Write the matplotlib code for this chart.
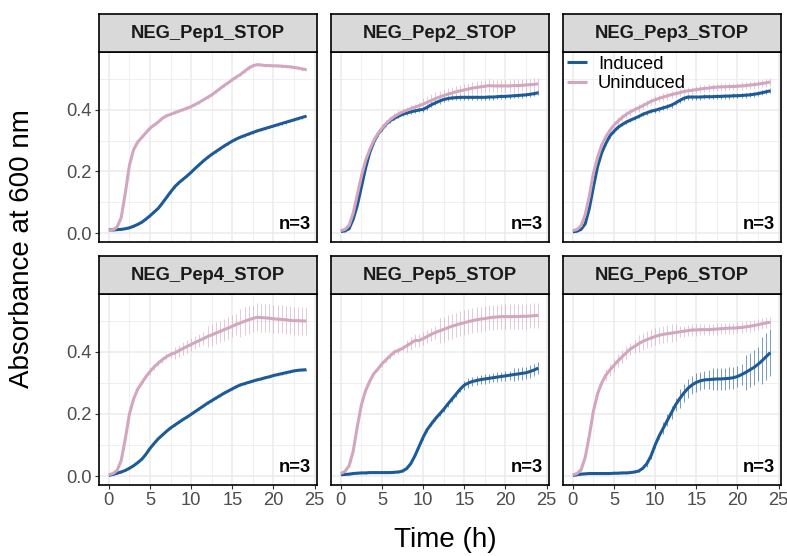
import numpy as np
import matplotlib
matplotlib.use("Agg")
import matplotlib.pyplot as plt
from matplotlib.ticker import MultipleLocator

plt.rcParams['font.family'] = ['Liberation Sans', 'DejaVu Sans']

# ---------------- data ----------------
time_h = [i * 0.5 for i in range(49)]
panels = ["NEG_Pep1_STOP", "NEG_Pep2_STOP", "NEG_Pep3_STOP",
          "NEG_Pep4_STOP", "NEG_Pep5_STOP", "NEG_Pep6_STOP"]
series_names = ["Induced", "Uninduced"]
n_label = "n=3"

induced_p1 = [0.010, 0.010, 0.011, 0.012, 0.014, 0.017, 0.022, 0.028, 0.035, 0.045,
              0.056, 0.068, 0.080, 0.097, 0.115, 0.133, 0.150, 0.163, 0.174, 0.185,
              0.197, 0.210, 0.222, 0.234, 0.245, 0.255, 0.264, 0.273, 0.282, 0.290,
              0.298, 0.305, 0.311, 0.316, 0.321, 0.326, 0.331, 0.335, 0.339, 0.343,
              0.347, 0.351, 0.355, 0.359, 0.363, 0.367, 0.371, 0.375, 0.379]
uninduced_p1 = [0.008, 0.010, 0.020, 0.050, 0.130, 0.220, 0.270, 0.295, 0.310, 0.325,
                0.340, 0.350, 0.360, 0.372, 0.380, 0.385, 0.390, 0.395, 0.400, 0.405,
                0.410, 0.417, 0.424, 0.432, 0.440, 0.448, 0.458, 0.468, 0.478, 0.487,
                0.497, 0.506, 0.514, 0.525, 0.535, 0.542, 0.546, 0.545, 0.543, 0.543,
                0.542, 0.542, 0.541, 0.540, 0.539, 0.537, 0.535, 0.532, 0.530]
induced_p2 = [0.005, 0.007, 0.014, 0.045, 0.090, 0.150, 0.210, 0.260, 0.295, 0.320,
              0.337, 0.353, 0.364, 0.372, 0.379, 0.385, 0.389, 0.393, 0.396, 0.399,
              0.401, 0.408, 0.416, 0.422, 0.428, 0.433, 0.436, 0.438, 0.439, 0.440,
              0.440, 0.440, 0.440, 0.440, 0.440, 0.440, 0.441, 0.441, 0.442, 0.443,
              0.443, 0.444, 0.445, 0.446, 0.447, 0.448, 0.450, 0.452, 0.455]
uninduced_p2 = [0.008, 0.012, 0.025, 0.065, 0.125, 0.185, 0.235, 0.270, 0.300, 0.322,
                0.340, 0.355, 0.368, 0.378, 0.386, 0.393, 0.398, 0.403, 0.408, 0.413,
                0.418, 0.424, 0.430, 0.436, 0.441, 0.446, 0.450, 0.454, 0.458, 0.461,
                0.464, 0.467, 0.470, 0.472, 0.474, 0.476, 0.478, 0.477, 0.477, 0.477,
                0.477, 0.477, 0.478, 0.478, 0.479, 0.480, 0.481, 0.482, 0.484]
induced_p3 = [0.004, 0.006, 0.012, 0.030, 0.080, 0.150, 0.215, 0.260, 0.290, 0.315,
              0.330, 0.343, 0.352, 0.360, 0.366, 0.372, 0.378, 0.385, 0.390, 0.395,
              0.398, 0.402, 0.406, 0.410, 0.415, 0.422, 0.430, 0.437, 0.441, 0.441,
              0.441, 0.441, 0.442, 0.442, 0.442, 0.443, 0.443, 0.444, 0.444, 0.445,
              0.445, 0.446, 0.447, 0.448, 0.450, 0.452, 0.455, 0.458, 0.461]
uninduced_p3 = [0.008, 0.012, 0.024, 0.060, 0.120, 0.195, 0.245, 0.285, 0.312, 0.333,
                0.350, 0.363, 0.375, 0.385, 0.393, 0.400, 0.406, 0.413, 0.420, 0.427,
                0.432, 0.437, 0.441, 0.445, 0.449, 0.452, 0.455, 0.459, 0.461, 0.463,
                0.465, 0.467, 0.469, 0.470, 0.472, 0.473, 0.474, 0.474, 0.475, 0.475,
                0.476, 0.477, 0.478, 0.480, 0.481, 0.483, 0.485, 0.487, 0.490]
induced_p4 = [0.002, 0.005, 0.009, 0.013, 0.018, 0.025, 0.033, 0.043, 0.054, 0.070,
              0.089, 0.105, 0.120, 0.132, 0.144, 0.155, 0.164, 0.173, 0.182, 0.190,
              0.199, 0.208, 0.217, 0.226, 0.235, 0.243, 0.251, 0.259, 0.267, 0.274,
              0.281, 0.288, 0.294, 0.298, 0.302, 0.306, 0.310, 0.313, 0.317, 0.320,
              0.324, 0.327, 0.330, 0.333, 0.336, 0.339, 0.341, 0.342, 0.343]
uninduced_p4 = [0.004, 0.008, 0.018, 0.050, 0.120, 0.200, 0.248, 0.280, 0.300, 0.320,
                0.337, 0.352, 0.364, 0.375, 0.385, 0.392, 0.397, 0.404, 0.411, 0.418,
                0.424, 0.431, 0.437, 0.443, 0.450, 0.455, 0.461, 0.466, 0.472, 0.477,
                0.483, 0.489, 0.494, 0.499, 0.504, 0.508, 0.512, 0.511, 0.510, 0.509,
                0.507, 0.506, 0.505, 0.504, 0.502, 0.501, 0.501, 0.500, 0.500]
induced_p5 = [0.004, 0.005, 0.006, 0.008, 0.009, 0.010, 0.010, 0.011, 0.011, 0.011,
              0.011, 0.011, 0.011, 0.012, 0.013, 0.016, 0.024, 0.040, 0.065, 0.095,
              0.125, 0.150, 0.168, 0.185, 0.200, 0.215, 0.232, 0.248, 0.264, 0.280,
              0.293, 0.300, 0.305, 0.308, 0.311, 0.313, 0.315, 0.317, 0.319, 0.321,
              0.323, 0.325, 0.327, 0.329, 0.331, 0.333, 0.337, 0.342, 0.348]
uninduced_p5 = [0.008, 0.015, 0.033, 0.080, 0.160, 0.230, 0.275, 0.305, 0.330, 0.345,
                0.362, 0.375, 0.388, 0.400, 0.405, 0.412, 0.420, 0.428, 0.437, 0.437,
                0.443, 0.450, 0.457, 0.463, 0.468, 0.473, 0.478, 0.483, 0.487, 0.491,
                0.494, 0.498, 0.501, 0.504, 0.506, 0.508, 0.510, 0.512, 0.513, 0.514,
                0.514, 0.514, 0.514, 0.514, 0.515, 0.515, 0.516, 0.517, 0.518]
induced_p6 = [0.002, 0.004, 0.006, 0.007, 0.008, 0.008, 0.008, 0.008, 0.008, 0.008,
              0.009, 0.009, 0.010, 0.010, 0.011, 0.013, 0.016, 0.025, 0.040, 0.065,
              0.100, 0.130, 0.155, 0.180, 0.205, 0.230, 0.250, 0.268, 0.283, 0.294,
              0.302, 0.307, 0.310, 0.311, 0.312, 0.313, 0.313, 0.314, 0.315, 0.317,
              0.321, 0.327, 0.334, 0.342, 0.350, 0.360, 0.372, 0.385, 0.398]
uninduced_p6 = [0.004, 0.008, 0.020, 0.060, 0.130, 0.210, 0.265, 0.300, 0.325, 0.342,
                0.357, 0.372, 0.385, 0.398, 0.410, 0.418, 0.427, 0.434, 0.440, 0.445,
                0.450, 0.454, 0.457, 0.459, 0.461, 0.463, 0.465, 0.467, 0.469, 0.471,
                0.471, 0.472, 0.472, 0.472, 0.473, 0.474, 0.475, 0.476, 0.477, 0.477,
                0.478, 0.479, 0.481, 0.483, 0.485, 0.488, 0.491, 0.494, 0.496]

# standard-error half widths (same time points)
err_ind_p1 = [0.002] * 10 + [0.003] * 20 + [0.004] * 19
err_uni_p1 = [0.002] * 10 + [0.004] * 20 + [0.005] * 19
err_ind_p2 = [0.002] * 8 + [0.006] * 12 + [0.008] * 29
err_uni_p2 = [0.002] * 8 + [0.012] * 12 + [0.020] * 29
err_ind_p3 = [0.002] * 8 + [0.006] * 12 + [0.008] * 29
err_uni_p3 = [0.002] * 8 + [0.012] * 12 + [0.012] * 29
err_ind_p4 = [0.002] * 20 + [0.003] * 29
err_uni_p4 = [0.003] * 10 + [0.010] * 6 + [0.020] * 8 + [0.035] * 8 + [0.045] * 17
err_ind_p5 = [0.002] * 20 + [0.008] * 10 + [0.015] * 12 + [0.020] * 7
err_uni_p5 = [0.003] * 10 + [0.010] * 6 + [0.020] * 8 + [0.040] * 25
err_ind_p6 = [0.002] * 18 + [0.010] * 4 + [0.020] * 4 + [0.030] * 8 + [0.035] * 8 + [0.055] * 4 + [0.075] * 3
err_uni_p6 = [0.003] * 8 + [0.020] * 8 + [0.028] * 10 + [0.018] * 23

induced_all = [induced_p1, induced_p2, induced_p3, induced_p4, induced_p5, induced_p6]
uninduced_all = [uninduced_p1, uninduced_p2, uninduced_p3, uninduced_p4, uninduced_p5, uninduced_p6]
err_ind_all = [err_ind_p1, err_ind_p2, err_ind_p3, err_ind_p4, err_ind_p5, err_ind_p6]
err_uni_all = [err_uni_p1, err_uni_p2, err_uni_p3, err_uni_p4, err_uni_p5, err_uni_p6]

# ---------------- style ----------------
W, H = 787, 556
BLUE = "#1d5a98"
PINK = "#d3a6bf"
GRID = "#ebebeb"
TICKC = "#4d4d4d"
FS = 13.2

fig = plt.figure(figsize=(W / 100, H / 100), dpi=100)

col_left = [99, 331, 563]
col_w = 218
rows = [(14, 52, 242), (256, 294, 485)]  # strip top, axes top, axes bottom (px)

def fx(px):
    return px / W

def fy(py):
    return 1 - py / H

for i, name in enumerate(panels):
    r, c = divmod(i, 3)
    st, at, ab = rows[r]
    left = col_left[c]
    ax = fig.add_axes([fx(left), fy(ab), col_w / W, (ab - at) / H])
    sax = fig.add_axes([fx(left), fy(at), col_w / W, (at - st) / H])

    t = np.array(time_h)
    yi = np.array(induced_all[i]); ei = np.array(err_ind_all[i])
    yu = np.array(uninduced_all[i]); eu = np.array(err_uni_all[i])

    ax.vlines(t, yi - ei, yi + ei, color=BLUE, lw=0.6, alpha=0.7, zorder=2)
    ax.vlines(t, yu - eu, yu + eu, color=PINK, lw=0.6, alpha=0.7, zorder=2)
    ax.plot(t, yi, color=BLUE, lw=2.2, zorder=3, label=series_names[0],
            solid_capstyle='butt')
    ax.plot(t, yu, color=PINK, lw=2.2, zorder=4, label=series_names[1],
            solid_capstyle='butt')

    ax.set_xlim(-1.2, 25.3)
    ax.set_ylim(-0.029, 0.587)
    ax.xaxis.set_major_locator(MultipleLocator(5))
    ax.xaxis.set_minor_locator(MultipleLocator(2.5))
    ax.yaxis.set_major_locator(MultipleLocator(0.2))
    ax.yaxis.set_minor_locator(MultipleLocator(0.1))
    ax.grid(which='major', color=GRID, lw=1.1, zorder=0)
    ax.grid(which='minor', color=GRID, lw=0.55, zorder=0)
    ax.set_axisbelow(True)
    ax.tick_params(which='minor', length=0)
    ax.tick_params(which='major', length=3, width=0.8, color='#333333',
                   labelcolor=TICKC, labelsize=FS, pad=2)
    for sp in ax.spines.values():
        sp.set_color('black')
        sp.set_linewidth(1.2)
    if c != 0:
        ax.tick_params(axis='y', labelleft=False, left=False)
    else:
        ax.yaxis.set_major_formatter(matplotlib.ticker.FormatStrFormatter('%.1f'))
    if r == 0:
        ax.tick_params(axis='x', labelbottom=False, bottom=False)

    ax.text(0.97, 0.045, n_label, transform=ax.transAxes, ha='right', va='bottom',
            fontsize=FS, fontweight='bold', color='black', zorder=5)

    sax.set_facecolor('#d9d9d9')
    sax.set_xticks([]); sax.set_yticks([])
    for sp in sax.spines.values():
        sp.set_color('black')
        sp.set_linewidth(1.2)
    sax.text(0.5, 0.5, name, transform=sax.transAxes, ha='center', va='center',
             fontsize=FS, fontweight='bold', color='#1a1a1a')

    if i == 2:
        ax.legend(loc='upper left', frameon=False, fontsize=FS, handlelength=1.1,
                  borderaxespad=0.05, labelspacing=0.15, handletextpad=0.6,
                  borderpad=0.15)

fig.text(fx(22), fy(249), "Absorbance at 600 nm", rotation=90, ha='center',
         va='center', fontsize=20, color='black')
fig.text(fx(445), fy(540), "Time (h)", ha='center', va='center', fontsize=20,
         color='black')

fig.savefig("out.png", dpi=100)
